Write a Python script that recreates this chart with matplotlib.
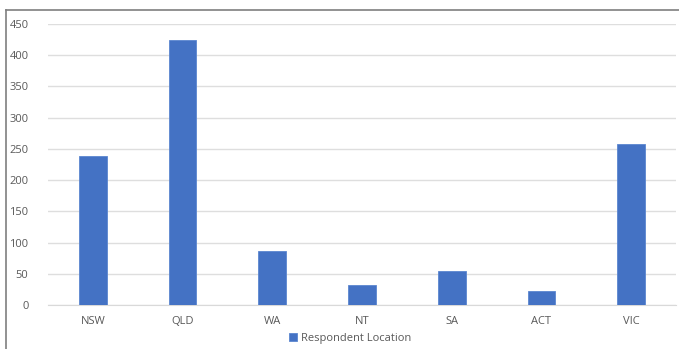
import matplotlib
matplotlib.use("Agg")
import matplotlib.pyplot as plt
from matplotlib.lines import Line2D

states = ["NSW", "QLD", "WA", "NT", "SA", "ACT", "VIC"]
respondents = [239, 425, 87, 32, 54, 22, 258]
y_ticks = [0, 50, 100, 150, 200, 250, 300, 350, 400, 450]
series_name = "Respondent Location"

plt.rcParams["font.family"] = ["Open Sans", "DejaVu Sans"]
W, H = 679, 349
fig = plt.figure(figsize=(W / 100, H / 100), dpi=100)
fig.patch.set_facecolor("white")

ax = fig.add_axes([48 / W, (H - 305) / H, 628 / W, 281 / H])
bars = ax.bar(range(len(states)), respondents, width=0.31, color="#4472C4",
              edgecolor="#5b86d0", linewidth=0.6, label=series_name, zorder=3)
ax.set_xlim(-0.5, len(states) - 0.5)
ax.set_ylim(0, 450)
ax.set_yticks(y_ticks)
ax.set_xticks(range(len(states)))
ax.set_xticklabels(states)
ax.yaxis.grid(True, color="#dedede", linewidth=1.0, zorder=0)
for s in ["top", "right", "left"]:
    ax.spines[s].set_visible(False)
ax.spines["bottom"].set_color("#d9d9d9")
ax.tick_params(axis="both", length=0, labelsize=8, colors="#595959")
ax.tick_params(axis="x", pad=8)
ax.tick_params(axis="y", pad=14)

leg = fig.legend(handles=[bars], labels=[series_name], loc="center",
                 bbox_to_anchor=(350 / W, (H - 338) / H), frameon=False,
                 fontsize=8, handlelength=0.7, handleheight=0.7,
                 handletextpad=0.4)
for t in leg.get_texts():
    t.set_color("#595959")

# outer chart border
fig.add_artist(Line2D([6 / W, 6 / W], [0, (H - 10) / H], transform=fig.transFigure,
                      color="#7f7f7f", linewidth=1.2))
fig.add_artist(Line2D([6 / W, 1], [(H - 10) / H, (H - 10) / H], transform=fig.transFigure,
                      color="#7f7f7f", linewidth=1.2))

fig.savefig("out.png", dpi=100, facecolor="white")
